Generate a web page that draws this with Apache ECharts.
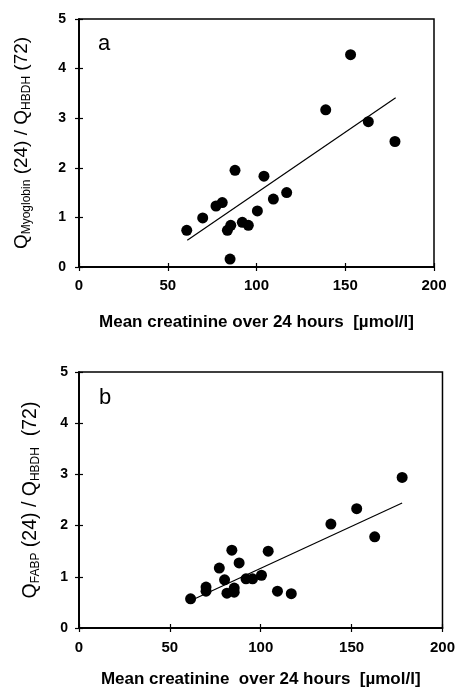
<html>
  <head>
    <meta charset="utf-8" />
    <script src="https://cdn.jsdelivr.net/npm/echarts@6/dist/echarts.min.js"></script>
  </head>
  <body>
    <style>
      html,
      body,
      #main {
        width: 100%;
        height: 100%;
        margin: 0;
        background: #fff;
      }
    </style>
    <div id="main"></div>
    <script>
      // panel a: Q Myoglobin(24) / Q HBDH(72) vs mean creatinine
      const creatA = [60.7, 69.7, 77.2, 80.7, 87.9, 83.6, 85.5, 85.1, 92, 95.4, 100.5, 104.2, 109.5, 117, 139, 153, 163, 178];
      const ratioA = [0.74, 0.99, 1.23, 1.3, 1.95, 0.74, 0.84, 0.16, 0.9, 0.84, 1.13, 1.83, 1.37, 1.5, 3.17, 4.28, 2.93, 2.53];
      const fitA = [[61, 0.54], [178.4, 3.41]];

      // panel b: Q FABP(24) / Q HBDH(72) vs mean creatinine
      const creatB = [61.4, 69.9, 69.9, 77.2, 80.1, 81.4, 84.1, 85.4, 85.4, 88.1, 91.9, 95.5, 100.4, 104.1, 109.2, 116.8, 138.6, 152.8, 162.7, 177.8];
      const ratioB = [0.57, 0.8, 0.72, 1.17, 0.94, 0.68, 1.52, 0.78, 0.7, 1.27, 0.96, 0.96, 1.03, 1.5, 0.72, 0.67, 2.03, 2.33, 1.78, 2.94];
      const fitB = [[63.7, 0.57], [177.8, 2.44]];

      const xTicks = [0, 50, 100, 150, 200];
      const yTicks = [0, 1, 2, 3, 4, 5];

      const titleA = "Mean creatinine over 24 hours  [µmol/l]";
      const titleB = "Mean creatinine  over 24 hours  [µmol/l]";
      const font = "Liberation Sans, Arial, sans-serif";

      var chart = echarts.init(document.getElementById("main"));

      function pairs(xs, ys) {
        return xs.map(function (x, i) {
          return [x, ys[i]];
        });
      }

      // two axes on the same line: one with outward ticks + labels, one with inward ticks
      function xAxes(gi, title, labelGap, titleGap) {
        var base = {
          gridIndex: gi,
          type: "value",
          min: xTicks[0],
          max: xTicks[xTicks.length - 1],
          interval: 50,
          splitLine: { show: false },
          axisLine: { onZero: false, lineStyle: { color: "#000", width: 1.5 } },
        };
        return [
          Object.assign({}, base, {
            position: "bottom",
            axisTick: { length: 4, lineStyle: { color: "#000", width: 1.2 } },
            axisLabel: { color: "#000", fontFamily: font, fontWeight: "bold", fontSize: 15, margin: labelGap },
            name: title,
            nameLocation: "middle",
            nameGap: titleGap,
            nameTextStyle: { color: "#000", fontFamily: font, fontWeight: "bold", fontSize: 17 },
          }),
          Object.assign({}, base, {
            position: "bottom",
            axisTick: { inside: true, length: 4, lineStyle: { color: "#000", width: 1.2 } },
            axisLabel: { show: false },
          }),
        ];
      }

      function yAxes(gi, rich, labelGap, titleGap, size) {
        var base = {
          gridIndex: gi,
          type: "value",
          min: yTicks[0],
          max: yTicks[yTicks.length - 1],
          interval: 1,
          splitLine: { show: false },
          axisLine: { onZero: false, lineStyle: { color: "#000", width: 1.5 } },
        };
        return [
          Object.assign({}, base, {
            position: "left",
            axisTick: { length: 4, lineStyle: { color: "#000", width: 1.2 } },
            axisLabel: { color: "#000", fontFamily: font, fontWeight: "bold", fontSize: 14, margin: labelGap },
            name: rich,
            nameLocation: "middle",
            nameRotate: 90,
            nameGap: titleGap,
            nameTextStyle: {
              color: "#000",
              fontFamily: font,
              fontSize: size,
              rich: {
                s: { fontFamily: font, fontSize: 12, color: "#000", padding: [10, 0, 0, 0] },
              },
            },
          }),
          Object.assign({}, base, {
            position: "left",
            axisTick: { inside: true, length: 4, lineStyle: { color: "#000", width: 1.2 } },
            axisLabel: { show: false },
          }),
        ];
      }

      function scatter(xi, yi, data) {
        return {
          type: "scatter",
          xAxisIndex: xi,
          yAxisIndex: yi,
          symbolSize: 11,
          itemStyle: { color: "#000", opacity: 1 },
          data: data,
          z: 3,
        };
      }

      function fit(xi, yi, data) {
        return {
          type: "line",
          xAxisIndex: xi,
          yAxisIndex: yi,
          symbol: "none",
          lineStyle: { color: "#000", width: 1.2 },
          data: data,
          z: 2,
        };
      }

      var option = {
        animation: false,
        backgroundColor: "#fff",
        grid: [
          { left: 79, top: 19, right: 24, height: 248, show: true, borderColor: "#000", borderWidth: 1.5 },
          { left: 79, top: 372, right: 12, height: 256, show: true, borderColor: "#000", borderWidth: 1.5 },
        ],
        xAxis: xAxes(0, titleA, 11, 47).concat(xAxes(1, titleB, 12, 43)),
        yAxis: yAxes(0, "Q{s|Myoglobin} (24) / Q{s|HBDH} (72)", 13, 46, 19).concat(
          yAxes(1, "Q{s|FABP} (24) / Q{s|HBDH}  (72)", 11, 37, 19.5)
        ),
        graphic: [
          { type: "text", left: 98, top: 33, style: { text: "a", font: "22px " + font, fill: "#000" } },
          { type: "text", left: 99, top: 387, style: { text: "b", font: "22px " + font, fill: "#000" } },
        ],
        series: [
          fit(0, 0, fitA),
          scatter(0, 0, pairs(creatA, ratioA)),
          fit(2, 2, fitB),
          scatter(2, 2, pairs(creatB, ratioB)),
        ],
      };

      chart.setOption(option);
      window.onresize = chart.resize;
    </script>
  </body>
</html>
